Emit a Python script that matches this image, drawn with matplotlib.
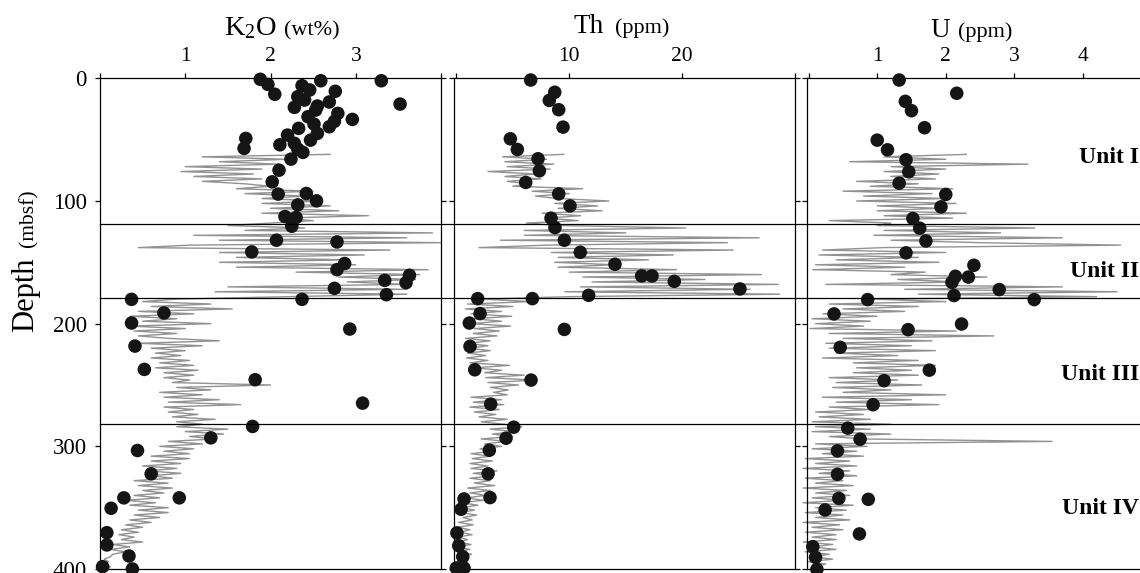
import numpy as np
import matplotlib
matplotlib.use("Agg")
import matplotlib.pyplot as plt
from matplotlib import transforms
from matplotlib.lines import Line2D

plt.rcParams['font.family'] = ['Liberation Serif', 'DejaVu Serif']
plt.rcParams['mathtext.fontset'] = 'custom'
plt.rcParams['mathtext.rm'] = 'Liberation Serif'
plt.rcParams['mathtext.it'] = 'Liberation Serif:italic'

# --- data -----------------------------------------------------------------
# discrete sample analyses (depth in mbsf, value)
k2o_dot_depth = [0.8, 5, 13, 2, 2, 21, 6, 9.5, 10.6, 15, 17.7, 19.3, 22.6, 23.7, 25.9, 28.6,
                 33.5, 31.3, 35.1, 37.3, 39.5, 40.8, 44.9, 46.3, 49, 50.4, 53, 54.2, 57.1,
                 57.7, 60.4, 65.9, 74.9, 84.4, 94.4, 93.9, 99.9, 103.2, 112.7, 113.5, 120.6,
                 132, 133.4, 141.5, 151, 156, 160.6, 164.7, 166.6, 171.2, 176.4, 180.2, 180.2,
                 191.3, 199.5, 204.4, 218.3, 237.3, 245.7, 264.8, 283.8, 293.1, 303.4, 322.4,
                 342, 342, 350.5, 370.4, 380.4, 389.4, 398.1, 400]
k2o_dot = [1.88, 1.97, 2.05, 2.59, 3.30, 3.52, 2.37, 2.46, 2.76, 2.32, 2.40, 2.69, 2.55, 2.28,
           2.53, 2.79, 2.96, 2.44, 2.75, 2.51, 2.69, 2.33, 2.55, 2.20, 1.71, 2.47, 2.28, 2.11,
           1.69, 2.32, 2.38, 2.24, 2.10, 2.02, 2.09, 2.42, 2.54, 2.32, 2.17, 2.30, 2.25,
           2.07, 2.78, 1.78, 2.87, 2.78, 3.63, 3.34, 3.59, 2.75, 3.36, 2.37, 0.37,
           0.75, 0.37, 2.93, 0.41, 0.52, 1.82, 3.08, 1.79, 1.30, 0.44, 0.60,
           0.28, 0.93, 0.13, 0.08, 0.08, 0.34, 0.03, 0.38]

th_dot_depth = [1.4, 11.4, 18, 25.6, 39.8, 49.3, 58, 65.6, 75.4, 84.9, 94.2, 104, 114, 121.7,
                132, 141.8, 151.6, 161.1, 161.1, 165.5, 171.7, 176.9, 179.6, 179.6, 191.8,
                199.5, 204.7, 218.5, 237.6, 246, 265.6, 284.4, 293.4, 303.2, 322.4, 341.8,
                342.9, 351.3, 370.6, 381, 390, 399.2, 399.2]
th_dot = [6.58, 8.71, 8.23, 9.06, 9.44, 4.78, 5.40, 7.23, 7.35, 6.14, 9.06, 10.06, 8.38, 8.73,
          9.56, 10.97, 14.04, 16.40, 17.32, 19.29, 25.1, 11.71, 1.89, 6.73, 2.10,
          1.15, 9.56, 1.21, 1.63, 6.61, 3.04, 5.08, 4.40, 2.92, 2.81, 2.98,
          0.68, 0.42, 0.05, 0.21, 0.57, 0.0, 0.68]

u_dot_depth = [1.4, 12.2, 18.8, 26.4, 40.3, 50.4, 58.3, 66.4, 76.2, 85.5, 94.7, 104.8, 114.3,
               122.2, 132.6, 142.3, 152.4, 161.4, 162, 166.3, 172.2, 177.1, 180.4, 180.4,
               192.1, 200.3, 204.9, 219.3, 237.9, 246.5, 266.1, 285.2, 294.2, 303.7, 322.8,
               342.4, 343.2, 351.8, 371.4, 381.8, 390.5, 400.3]
u_dot = [1.32, 2.16, 1.41, 1.50, 1.69, 1.00, 1.15, 1.42, 1.46, 1.32, 2.00, 1.93, 1.52,
         1.62, 1.71, 1.42, 2.41, 2.14, 2.33, 2.09, 2.78, 2.12, 0.86, 3.29,
         0.37, 2.23, 1.45, 0.46, 1.76, 1.10, 0.94, 0.57, 0.75, 0.42, 0.42,
         0.44, 0.87, 0.24, 0.74, 0.06, 0.10, 0.12]

# downhole logs, sampled every 2 m from 62 to 400 mbsf (one row = 20 m)
log_depth = np.arange(62, 401, 2)
k2o_log = [2.7, 1.2, 2.2, 1.4, 2.1, 1.0, 1.9, 0.95, 1.8, 1.1,
           1.9, 1.2, 1.7, 2.0, 1.6, 2.5, 1.7, 2.4, 1.9, 2.6,
           1.9, 2.7, 2.0, 2.8, 1.9, 3.15, 2.1, 2.5, 2.0, 1.5,
           2.4, 1.7, 3.9, 1.1, 3.6, 1.4, 4.0, 1.05, 0.45, 3.4,
           1.4, 3.1, 1.6, 2.9, 1.4, 3.0, 1.6, 3.85, 2.3, 3.75,
           2.8, 3.7, 2.9, 3.6, 1.5, 3.6, 1.35, 3.6, 2.2, 0.9,
           0.5, 1.3, 0.6, 1.55, 0.45, 1.1, 0.35, 0.9, 0.5, 1.3,
           0.35, 1.0, 0.4, 0.9, 0.45, 0.8, 1.4, 0.45, 1.2, 0.6,
           1.0, 0.65, 0.95, 0.6, 1.05, 0.7, 1.1, 0.65, 1.15, 0.75,
           1.1, 0.75, 1.05, 0.85, 2.0, 0.9, 1.3, 0.7, 1.2, 0.75,
           1.4, 0.8, 1.65, 0.75, 1.1, 0.8, 1.15, 0.85, 1.35, 0.9,
           1.2, 0.9, 1.5, 1.0, 1.45, 1.05, 1.35, 0.8, 1.2, 0.7,
           1.1, 0.75, 1.05, 0.6, 1.05, 0.6, 0.95, 0.5, 0.9, 0.55,
           0.95, 0.6, 0.85, 0.4, 0.8, 0.45, 0.85, 0.5, 0.75, 0.4,
           0.7, 0.3, 0.65, 0.35, 0.8, 0.45, 0.8, 0.4, 0.7, 0.35,
           0.6, 0.3, 0.5, 0.25, 0.45, 0.22, 0.4, 0.25, 0.5, 0.15,
           0.35, 0.12, 0.3, 0.15, 0.12, 0.05, 0.1, 0.06, 0.12, 0.1]
th_log = [9.5, 4.1, 8.0, 4.3, 8.6, 4.5, 8.3, 2.8, 7.0, 4.3,
          7.5, 4.5, 6.5, 5.0, 11.2, 6.7, 10.0, 7.0, 9.0, 13.5,
          8.7, 12.5, 9.0, 12.9, 7.6, 11.0, 8.0, 10.8, 6.2, 9.0,
          20.3, 6.0, 15.0, 6.0, 26.8, 3.9, 24.0, 8.0, 2.0, 24.5,
          8.4, 19.2, 9.0, 17.0, 8.7, 14.0, 9.0, 19.5, 10.0, 27.0,
          11.2, 22.0, 12.0, 28.5, 11.0, 26.0, 9.6, 28.6, 10.0, 2.2,
          6.7, 1.0, 5.0, 0.8, 4.0, 1.3, 4.9, 1.5, 4.0, 1.3,
          4.8, 1.6, 3.8, 1.5, 3.6, 0.8, 3.0, 1.0, 2.8, 1.0,
          3.0, 1.0, 2.6, 0.9, 2.8, 1.2, 4.7, 1.6, 4.0, 2.5,
          6.0, 2.6, 7.1, 2.8, 5.5, 3.0, 4.6, 3.3, 4.5, 1.3,
          4.0, 1.5, 4.2, 1.2, 3.8, 1.6, 3.5, 2.0, 4.5, 2.2,
          4.2, 5.8, 3.0, 5.2, 3.2, 5.0, 2.2, 4.5, 2.5, 4.0,
          2.1, 3.3, 1.3, 3.0, 1.4, 3.2, 1.2, 2.8, 1.3, 3.6,
          1.5, 3.2, 1.2, 3.0, 1.6, 3.4, 1.0, 3.0, 1.2, 2.6,
          0.9, 2.4, 0.4, 1.9, 0.5, 1.6, 0.35, 1.8, 0.6, 1.4,
          0.2, 1.5, 0.1, 1.2, 0.3, 1.4, 0.05, 1.0, 0.2, 1.3,
          0.1, 1.2, 0.1, 1.35, 0.4, 1.0, 0.1, 0.9, 0.2, 0.8]
u_log = [2.3, 1.1, 2.0, 0.6, 3.2, 1.2, 2.0, 1.1, 1.9, 1.2,
         1.85, 0.7, 1.6, 0.9, 2.1, 0.5, 1.8, 0.8, 2.0, 0.7,
         2.15, 1.0, 1.9, 1.0, 2.3, 1.1, 2.1, 0.3, 1.2, 1.0,
         3.3, 1.1, 2.8, 0.95, 3.7, 1.2, 2.5, 4.55, 1.1, 0.2,
         2.0, 0.15, 1.6, 0.4, 1.9, 0.1, 1.4, 0.06, 1.7, 1.2,
         2.6, 1.3, 2.2, 0.25, 3.7, 1.4, 4.5, 1.6, 4.2, 0.9,
         2.0, 0.3, 1.6, 0.5, 1.4, 0.21, 1.0, 0.05, 0.9, 0.1,
         0.8, 0.02, 2.15, 0.3, 2.7, 0.5, 1.8, 0.25, 1.5, 0.3,
         1.85, 0.4, 1.3, 0.2, 1.6, 0.65, 1.85, 0.7, 1.5, 0.65,
         1.6, 0.3, 1.3, 0.4, 1.65, 0.35, 1.2, 0.5, 2.0, 0.2,
         1.5, 0.4, 1.9, 0.3, 0.9, 0.1, 0.8, 0.15, 0.9, 0.05,
         1.2, 0.1, 0.9, 0.05, 1.2, 0.3, 0.8, 3.55, 0.1, 0.85,
         0.05, 0.7, 0.2, 0.8, -0.05, 0.6, 0.1, 0.7, -0.08, 0.6,
         0.15, 0.7, -0.05, 0.5, 0.1, 0.65, -0.08, 0.55, 0.1, 0.6,
         0.05, 0.5, -0.08, 0.65, 0.1, 0.55, -0.05, 0.5, 0.1, 0.6,
         -0.08, 0.45, 0.05, 0.5, -0.05, 0.4, 0.05, 0.4, -0.08, 0.35,
         0.05, 0.4, -0.05, 0.3, 0.05, 0.35, 0.0, 0.25, 0.05, 0.2]

unit_tops = [119, 179.3, 281.6]          # unit boundaries, mbsf
unit_names = ["Unit I", "Unit II", "Unit III", "Unit IV"]
unit_label_depth = [69, 162, 246, 355]

# --- figure ---------------------------------------------------------------
W, H = 1140, 573
fig = plt.figure(figsize=(W / 100, H / 100), dpi=100)

def px_rect(left, right, top, bottom):
    return [left / W, 1 - bottom / H, (right - left) / W, (bottom - top) / H]

ax_k = fig.add_axes(px_rect(100, 441, 78.3, 569))
ax_t = fig.add_axes(px_rect(454.3, 795.3, 78.3, 569))
ax_u = fig.add_axes(px_rect(807.3, 1148, 78.3, 569))

GRAY = '#929292'
DOT = '#151515'

panels = [
    (ax_k, k2o_log, k2o_dot_depth, k2o_dot, (0, 4), [0, 1, 2, 3, 4], ['', '1', '2', '3', '']),
    (ax_t, th_log, th_dot_depth, th_dot, (-0.18, 30), [0, 10, 20, 30], ['', '10', '20', '']),
    (ax_u, u_log, u_dot_depth, u_dot, (-0.02, 4.95), [0, 1, 2, 3, 4], ['', '1', '2', '3', '4']),
]

for ax, log, dd, dv, xl, xt, xtl in panels:
    ax.plot(log, log_depth, color=GRAY, lw=1.0, zorder=2, clip_on=False)
    ax.scatter(dv, dd, s=95, color=DOT, edgecolors='none', zorder=3, clip_on=False)
    ax.set_xlim(*xl)
    ax.set_ylim(400, 0)
    ax.set_xticks(xt)
    ax.set_xticklabels(xtl)
    ax.set_yticks([0, 100, 200, 300, 400])
    ax.tick_params(axis='x', top=True, bottom=False, labeltop=True, labelbottom=False,
                   direction='out', length=3.5, width=0.9, pad=5, labelsize=15.5)
    ax.tick_params(axis='y', left=True, right=(ax is not ax_u), labelleft=(ax is ax_k),
                   direction='out', length=3.5, width=0.9, pad=6, labelsize=16.5)
    for sp in ax.spines.values():
        sp.set_linewidth(0.9)
    if ax is ax_u:
        ax.spines['right'].set_visible(False)

# unit boundaries run across all three panels
bt = transforms.blended_transform_factory(fig.transFigure, ax_k.transData)
for d in unit_tops:
    fig.add_artist(Line2D([100 / W, 1.0], [d, d], transform=bt, color='black', lw=0.9))

for name, d in zip(unit_names, unit_label_depth):
    fig.text(1139 / W, d, name, transform=bt, ha='right', va='baseline',
             fontsize=17, fontweight='bold')

# column headings
def fx(x):
    return x / W

def fy(y):
    return 1 - y / H

fig.text(fx(224), fy(35), r'K$_2$O', fontsize=20.5, ha='left', va='baseline')
fig.text(fx(284), fy(35), '(wt%)', fontsize=16, ha='left', va='baseline')
fig.text(fx(573), fy(33), 'Th', fontsize=19.5, ha='left', va='baseline')
fig.text(fx(615), fy(33), '(ppm)', fontsize=16, ha='left', va='baseline')
fig.text(fx(930), fy(37), 'U', fontsize=19.5, ha='left', va='baseline')
fig.text(fx(958), fy(37), '(ppm)', fontsize=16, ha='left', va='baseline')

# depth axis label
fig.text(fx(33), fy(332), 'Depth', fontsize=22, rotation=90, rotation_mode='anchor',
         ha='left', va='baseline')
fig.text(fx(33), fy(247), '(mbsf)', fontsize=15.5, rotation=90, rotation_mode='anchor',
         ha='left', va='baseline')

fig.savefig('out.png', dpi=100)
